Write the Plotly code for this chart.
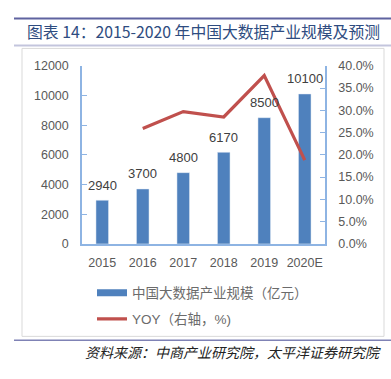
import plotly.graph_objects as go

W, H = 391, 379

categories = ["2015", "2016", "2017", "2018", "2019", "2020E"]
scale_values = [2940, 3700, 4800, 6170, 8500, 10100]
yoy_categories = ["2016", "2017", "2018", "2019", "2020E"]
yoy_values = [0.259, 0.297, 0.285, 0.378, 0.188]
left_ticks = [0, 2000, 4000, 6000, 8000, 10000, 12000]
right_ticks = [0, 0.05, 0.10, 0.15, 0.20, 0.25, 0.30, 0.35, 0.40]

title_text = "图表 14：2015-2020 年中国大数据产业规模及预测"
bar_name = "中国大数据产业规模（亿元）"
line_name = "YOY（右轴，%)"
source_text = "资料来源：中商产业研究院，太平洋证券研究院"

BAR_C = "#4F81BD"
LINE_C = "#C0504D"
AX_C = "#8EB4E3"
TXT_C = "#595959"
FONT = "Liberation Sans, Noto Sans CJK SC, sans-serif"

def px(x):
    return x / W

def py(y):
    return 1 - y / H

# category positions on the x axis
cat_pos = list(range(len(categories)))
yoy_pos = [categories.index(c) for c in yoy_categories]

fig = go.Figure()
fig.add_trace(go.Bar(x=cat_pos, y=scale_values, marker_color=BAR_C, width=0.31,
                     showlegend=False, name=bar_name))
fig.add_trace(go.Scatter(x=[cat_pos[0]], y=[None], mode="lines", name=bar_name,
                         line=dict(color=BAR_C, width=7), legend="legend",
                         hoverinfo="skip"))
fig.add_trace(go.Scatter(x=yoy_pos, y=yoy_values, yaxis="y2", mode="lines",
                         name=line_name, line=dict(color=LINE_C, width=3.2),
                         legend="legend2"))

annotations = []
for p, v in zip(cat_pos, scale_values):
    annotations.append(dict(x=p, y=v, xref="x", yref="y", text=str(v), showarrow=False,
                            yanchor="middle", yshift=15,
                            font=dict(size=13, color="#404040", family=FONT)))
annotations.append(dict(x=px(25), y=py(25), xref="paper", yref="paper", text=title_text,
                        showarrow=False, xanchor="left", yanchor="middle",
                        font=dict(size=15.8, color="#2E4C80", family="Noto Sans CJK SC")))
annotations.append(dict(x=px(383), y=py(358), xref="paper", yref="paper",
                        text="<i>" + source_text + "</i>",
                        showarrow=False, xanchor="right", yanchor="middle",
                        font=dict(size=14, color="#222222", family="Noto Sans CJK SC")))

shapes = [
    dict(type="line", xref="paper", yref="paper", x0=px(14), x1=1, y0=py(12), y1=py(12),
         line=dict(color="#5F63A0", width=2)),
    dict(type="line", xref="paper", yref="paper", x0=px(14), x1=1, y0=py(40), y1=py(40),
         line=dict(color="#C3C5DD", width=2)),
    dict(type="rect", xref="paper", yref="paper", x0=px(22), x1=px(384), y0=py(43), y1=py(342),
         line=dict(color="#D9D9D9", width=1)),
    dict(type="line", xref="paper", yref="paper", x0=px(14), x1=1, y0=py(346), y1=py(346),
         line=dict(color="#7F82B5", width=1.5)),
]

fig.update_layout(
    width=W, height=H, autosize=False,
    margin=dict(l=0, r=0, t=0, b=0),
    paper_bgcolor="white", plot_bgcolor="white",
    font=dict(family=FONT, color=TXT_C, size=12.5),
    xaxis=dict(domain=[px(82), px(325)], range=[-0.5, len(categories) - 0.5],
               tickvals=cat_pos, ticktext=categories,
               showline=True, linecolor=AX_C, linewidth=1.5, zeroline=False,
               ticks="", showgrid=False, ticklabelstandoff=6,
               tickfont=dict(size=12.5, color=TXT_C)),
    yaxis=dict(domain=[py(246), py(61)], range=[0, 12000], tickvals=left_ticks,
               tickformat="d",
               showline=True, linecolor=AX_C, linewidth=1.5, ticks="inside", ticklen=5,
               tickcolor=AX_C, showgrid=False, zeroline=False, ticklabelstandoff=9,
               tickfont=dict(size=12.5, color=TXT_C)),
    yaxis2=dict(overlaying="y", side="right", anchor="x", range=[0, 0.4],
                tickvals=right_ticks, tickformat=".1%", showline=True, linecolor=AX_C,
                linewidth=1.5, ticks="inside", ticklen=5, tickcolor=AX_C, showgrid=False,
                zeroline=False, ticklabelstandoff=9,
                tickfont=dict(size=12.5, color=TXT_C)),
    legend=dict(x=px(92), y=py(297), xanchor="left", yanchor="middle",
                bgcolor="rgba(0,0,0,0)", font=dict(size=13.5, color="#6B6B6B")),
    legend2=dict(x=px(92), y=py(324), xanchor="left", yanchor="middle",
                 bgcolor="rgba(0,0,0,0)", font=dict(size=13.5, color="#6B6B6B")),
    annotations=annotations,
    shapes=shapes,
    showlegend=True,
)

fig.write_html("out.html", config={"displayModeBar": False},
               post_script="document.body.style.margin='0';")
